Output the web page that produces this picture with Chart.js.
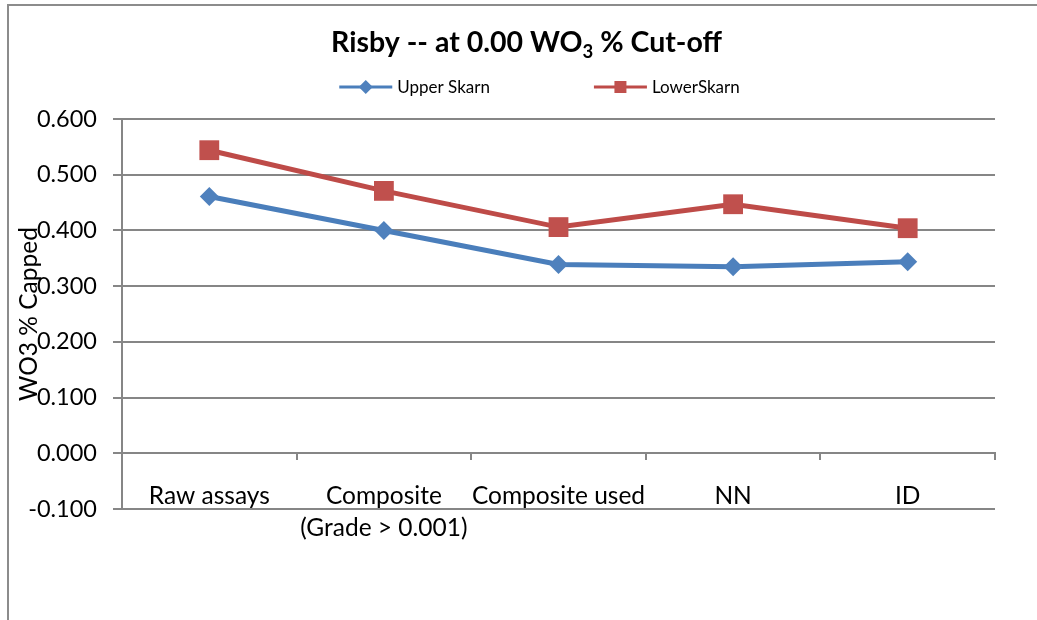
<!DOCTYPE html>
<html>
<head>
<meta charset="utf-8">
<title>Risby WO3 cut-off</title>
<script src="https://cdn.jsdelivr.net/npm/chart.js@4/dist/chart.umd.min.js"></script>
<style>
  html, body { margin: 0; padding: 0; background: #ffffff; }
  #wrap { width: 1037px; height: 620px; }
</style>
</head>
<body>
<div id="wrap"><canvas id="chart" width="1037" height="620"></canvas></div>
<script>
// data
const categories = ['Raw assays', ['Composite', '(Grade > 0.001)'], 'Composite used', 'NN', 'ID'];
const upperSkarn = [0.461, 0.400, 0.339, 0.335, 0.344];
const lowerSkarn = [0.544, 0.471, 0.406, 0.447, 0.404];
const yTicks = [-0.1, 0, 0.1, 0.2, 0.3, 0.4, 0.5, 0.6];

const FONT = 'Lato, Carlito, Calibri, "Open Sans", sans-serif';
const GRID = '#868686';
const BLUE = '#4A7EBB';
const RED = '#BE4B48';

// grey frame round the chart (top and left edges only visible)
const framePlugin = {
    id: 'frame',
    beforeDraw(chart) {
        const ctx = chart.ctx;
        ctx.save();
        ctx.strokeStyle = '#8c8c8c';
        ctx.lineWidth = 2;
        ctx.beginPath();
        ctx.moveTo(8, chart.height);
        ctx.lineTo(8, 5);
        ctx.lineTo(chart.width, 5);
        ctx.stroke();
        ctx.restore();
    }
};

// title with subscript, plus Excel-style legend (line through marker)
const headerPlugin = {
    id: 'header',
    afterDraw(chart) {
        const ctx = chart.ctx;
        ctx.save();

        // title
        const parts = [
            { text: 'Risby -- at 0.00 WO', size: 28.5, dy: 0 },
            { text: '3', size: 18.5, dy: 6 },
            { text: ' % Cut-off', size: 28.5, dy: 0 }
        ];
        let total = 0;
        parts.forEach(p => {
            ctx.font = `bold ${p.size}px ${FONT}`;
            p.w = ctx.measureText(p.text).width;
            total += p.w;
        });
        let x = 526.5 - total / 2;
        ctx.fillStyle = '#000000';
        ctx.textBaseline = 'alphabetic';
        ctx.textAlign = 'left';
        parts.forEach(p => {
            ctx.font = `bold ${p.size}px ${FONT}`;
            ctx.fillText(p.text, x, 52 + p.dy);
            x += p.w;
        });

        // legend
        const legendY = 87;
        const lineLen = 53;
        const gap = 104;
        ctx.font = `17px ${FONT}`;
        const items = chart.data.datasets.map(ds => ({
            ds: ds,
            w: lineLen + 5 + ctx.measureText(ds.label).width
        }));
        const legendW = items.reduce((s, it) => s + it.w, 0) + gap * (items.length - 1);
        let lx = 539.5 - legendW / 2;
        items.forEach(it => {
            const ds = it.ds;
            ctx.strokeStyle = ds.borderColor;
            ctx.lineWidth = 3;
            ctx.beginPath();
            ctx.moveTo(lx, legendY);
            ctx.lineTo(lx + lineLen, legendY);
            ctx.stroke();
            const cx = lx + lineLen / 2;
            ctx.fillStyle = ds.pointBackgroundColor;
            ctx.beginPath();
            if (ds.pointStyle === 'rectRot') {
                ctx.moveTo(cx, legendY - 7);
                ctx.lineTo(cx + 7, legendY);
                ctx.lineTo(cx, legendY + 7);
                ctx.lineTo(cx - 7, legendY);
                ctx.closePath();
            } else {
                ctx.rect(cx - 6, legendY - 6, 12, 12);
            }
            ctx.fill();
            ctx.fillStyle = '#000000';
            ctx.textBaseline = 'middle';
            ctx.fillText(ds.label, lx + lineLen + 5, legendY + 1);
            lx += it.w + gap;
        });
        ctx.restore();
    }
};

const ctx = document.getElementById('chart').getContext('2d');
const chart = new Chart(ctx, {
    type: 'line',
    data: {
        labels: categories,
        datasets: [
            {
                label: 'Upper Skarn',
                data: upperSkarn,
                borderColor: BLUE,
                backgroundColor: '#4F81BD',
                pointBackgroundColor: '#4F81BD',
                pointBorderColor: '#4F81BD',
                pointBorderWidth: 0,
                pointStyle: 'rectRot',
                pointRadius: 9.5,
                borderWidth: 5,
                tension: 0,
                fill: false
            },
            {
                label: 'LowerSkarn',
                data: lowerSkarn,
                borderColor: RED,
                backgroundColor: '#C0504D',
                pointBackgroundColor: '#C0504D',
                pointBorderColor: '#C0504D',
                pointBorderWidth: 0,
                pointStyle: 'rect',
                pointRadius: 14,
                borderWidth: 5,
                tension: 0,
                fill: false
            }
        ]
    },
    options: {
        responsive: false,
        animation: false,
        layout: {
            padding: { left: 8, right: 42, top: 119, bottom: 111 }
        },
        plugins: {
            legend: { display: false },
            title: { display: false },
            tooltip: { enabled: false }
        },
        scales: {
            x: {
                type: 'category',
                offset: true,
                position: { y: 0 },
                grid: {
                    offset: true,
                    drawOnChartArea: false,
                    drawTicks: true,
                    tickLength: 6,
                    color: GRID,
                    lineWidth: 2
                },
                border: { color: GRID, width: 2 },
                ticks: {
                    autoSkip: false,
                    maxRotation: 0,
                    minRotation: 0,
                    padding: 21,
                    color: '#000000',
                    font: { family: FONT, size: 24.5, lineHeight: 1.3 }
                }
            },
            y: {
                min: yTicks[0],
                max: yTicks[yTicks.length - 1],
                afterFit(scale) { scale.width = 114; },
                afterBuildTicks(scale) {
                    scale.ticks = yTicks.map(v => ({ value: v }));
                },
                grid: {
                    color: GRID,
                    lineWidth: 2,
                    tickLength: 9,
                    drawTicks: true
                },
                border: { color: GRID, width: 2 },
                ticks: {
                    padding: 16,
                    color: '#000000',
                    font: { family: FONT, size: 23.5 },
                    callback: (v) => Number(v).toFixed(3)
                },
                title: {
                    display: true,
                    text: 'WO3 % Capped',
                    color: '#000000',
                    font: { family: FONT, size: 24.5 },
                    padding: { top: 6, bottom: 0 }
                }
            }
        }
    },
    plugins: [framePlugin, headerPlugin]
});
</script>
</body>
</html>
